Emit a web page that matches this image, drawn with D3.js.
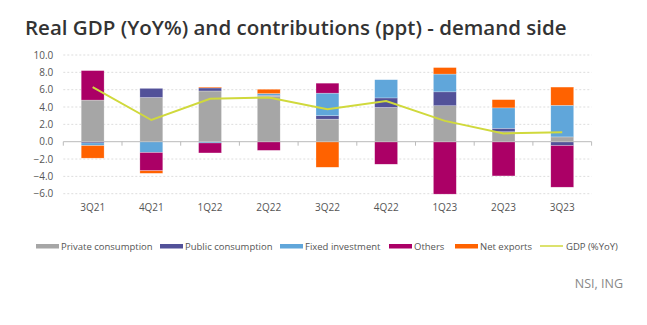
<!DOCTYPE html>
<html>
<head>
<meta charset="utf-8">
<title>Real GDP contributions</title>
<style>
body { margin: 0; background: #fff; }
text { font-family: "Open Sans", sans-serif; }
.grid line { stroke: #ddd; stroke-dasharray: 2,2; }
.axis text { fill: #555; font-size: 10px; }
.legend text { fill: #555; font-size: 9.5px; }
</style>
</head>
<body>
<script src="https://cdn.jsdelivr.net/npm/d3@7"></script>
<script>

var quarters = ["3Q21", "4Q21", "1Q22", "2Q22", "3Q22", "4Q22", "1Q23", "2Q23", "3Q23"];

var privateCons = [4.8, 5.1, 5.85, 5.25, 2.6, 3.95, 4.15, 1.15, 0.55];
var publicCons  = [-0.15, 1.05, 0.35, 0.1, 0.4, 1.1, 1.6, 0.4, -0.45];
var fixedInv    = [-0.3, -1.25, -0.15, 0.2, 2.6, 2.1, 2.05, 2.35, 3.65];
var others      = [3.4, -2.1, -1.15, -1.0, 1.15, -2.6, -6.05, -3.95, -4.8];
var netExports  = [-1.45, -0.3, 0.1, 0.5, -2.95, 0, 0.75, 0.95, 2.1];
var gdp         = [6.3, 2.5, 4.95, 5.1, 3.75, 4.7, 2.4, 0.95, 1.1];

var yTicks = [10, 8, 6, 4, 2, 0, -2, -4, -6];

var series = [
  {key: "Private consumption", values: privateCons, color: "#a6a6a6"},
  {key: "Public consumption", values: publicCons, color: "#525199"},
  {key: "Fixed investment", values: fixedInv, color: "#60a6da"},
  {key: "Others", values: others, color: "#ab0066"},
  {key: "Net exports", values: netExports, color: "#ff6200"}
];
var lineColor = "#d0d93c";

var width = 647, height = 325;
var plotLeft = 63.3, plotRight = 591.6, plotTop = 55, plotBottom = 193.7;

var svg = d3.select("body").append("svg")
    .attr("width", width)
    .attr("height", height);

svg.append("text")
    .attr("x", 25)
    .attr("y", 35)
    .attr("fill", "#333")
    .attr("font-size", "20.5px")
    .attr("font-weight", 600)
    .text("Real GDP (YoY%) and contributions (ppt) - demand side");

var x = d3.scaleBand()
    .domain(quarters)
    .range([plotLeft, plotRight])
    .paddingInner(0.61)
    .paddingOuter(0.305);

var y = d3.scaleLinear()
    .domain([-6, 10])
    .range([plotBottom, plotTop]);

// table for the stack
var rows = quarters.map(function(q, i) {
  var r = {q: q};
  series.forEach(function(s) { r[s.key] = s.values[i]; });
  return r;
});

var stack = d3.stack()
    .keys(series.map(function(s) { return s.key; }))
    .offset(d3.stackOffsetDiverging)(rows);

// dotted gridlines
svg.append("g").attr("class", "grid")
  .selectAll("line")
  .data(yTicks.filter(function(t) { return t != 0; }))
  .enter().append("line")
    .attr("x1", plotLeft).attr("x2", plotRight)
    .attr("y1", function(d) { return y(d); })
    .attr("y2", function(d) { return y(d); });

// y labels
svg.append("g").attr("class", "axis")
  .attr("transform", "translate(" + plotLeft + ",0)")
  .call(d3.axisLeft(y).tickValues(yTicks).tickFormat(d3.format(".1f")).tickSize(0).tickPadding(10))
  .call(function(g) { g.select(".domain").remove(); });

// bars
svg.append("g")
  .selectAll("g")
  .data(stack)
  .enter().append("g")
    .attr("fill", function(d, i) { return series[i].color; })
  .selectAll("rect")
  .data(function(d) { return d; })
  .enter().append("rect")
    .attr("x", function(d) { return x(d.data.q); })
    .attr("width", x.bandwidth())
    .attr("y", function(d) { return y(Math.max(d[0], d[1])); })
    .attr("height", function(d) { return Math.abs(y(d[0]) - y(d[1])); })
    .attr("stroke", "#fff")
    .attr("stroke-opacity", 0.5)
    .attr("stroke-width", 0.5);

// zero axis with category ticks
var xAxis = svg.append("g").attr("class", "axis")
  .attr("transform", "translate(0," + y(0) + ")");
xAxis.append("line")
    .attr("x1", plotLeft).attr("x2", plotRight)
    .attr("stroke", "#bbb").attr("stroke-width", 1);
xAxis.selectAll(".tk")
  .data(d3.range(quarters.length + 1))
  .enter().append("line")
    .attr("class", "tk")
    .attr("x1", function(i) { return plotLeft + i * x.step(); })
    .attr("x2", function(i) { return plotLeft + i * x.step(); })
    .attr("y1", 0).attr("y2", 4)
    .attr("stroke", "#bbb");

svg.append("g").attr("class", "axis")
  .selectAll("text")
  .data(quarters)
  .enter().append("text")
    .attr("x", function(d) { return x(d) + x.bandwidth() / 2; })
    .attr("y", 211)
    .attr("text-anchor", "middle")
    .text(function(d) { return d; });

// GDP line
var line = d3.line()
    .x(function(d, i) { return x(quarters[i]) + x.bandwidth() / 2; })
    .y(function(d) { return y(d); });

svg.append("path")
    .datum(gdp)
    .attr("d", line)
    .attr("fill", "none")
    .attr("stroke", lineColor)
    .attr("stroke-width", 2);

// legend
var legendX = [36, 160, 280, 389, 455];
var legend = svg.append("g").attr("class", "legend");
series.forEach(function(s, i) {
  legend.append("rect")
      .attr("x", legendX[i]).attr("y", 244)
      .attr("width", 23).attr("height", 4.5)
      .attr("fill", s.color);
  legend.append("text")
      .attr("x", legendX[i] + 25).attr("y", 249.5)
      .text(s.key);
});
legend.append("line")
    .attr("x1", 540).attr("x2", 563)
    .attr("y1", 246).attr("y2", 246)
    .attr("stroke", lineColor).attr("stroke-width", 1.5);
legend.append("text")
    .attr("x", 566).attr("y", 249.5)
    .text("GDP (%YoY)");

svg.append("text")
    .attr("x", 623)
    .attr("y", 288)
    .attr("text-anchor", "end")
    .attr("fill", "#888")
    .attr("font-size", "12.5px")
    .text("NSI, ING");

</script>
</body>
</html>
